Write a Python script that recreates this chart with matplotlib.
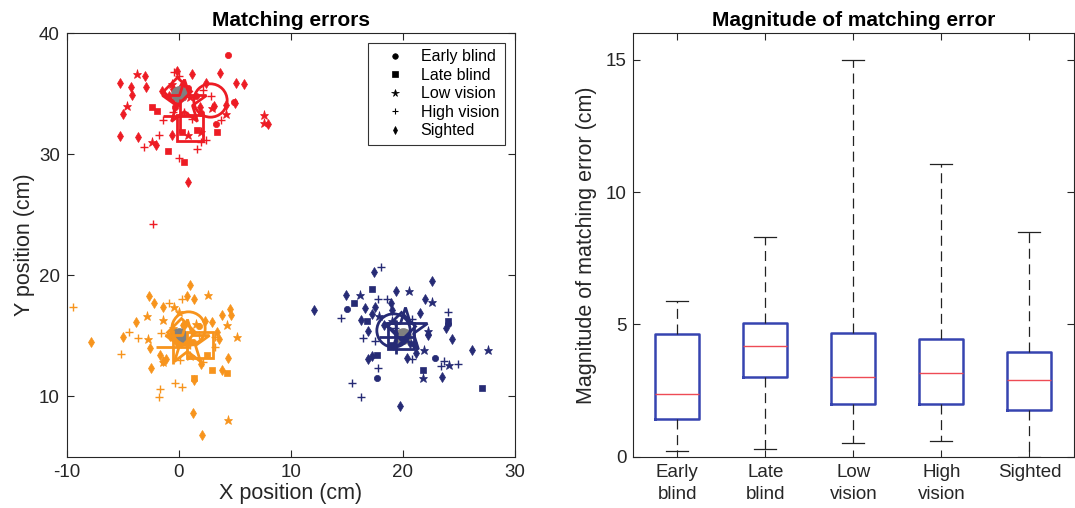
import matplotlib
matplotlib.use("Agg")
import matplotlib.pyplot as plt
import numpy as np

plt.rcParams['font.family'] = ['Liberation Sans', 'DejaVu Sans']
plt.rcParams['axes.unicode_minus'] = False

# ---------------- Data: left panel (matching errors) ----------------
groups = ["Early blind", "Late blind", "Low vision", "High vision", "Sighted"]
group_markers = ["o", "s", "*", "+", "d"]

# Target positions (gray dots)
target_x = [0, 0, 20]
target_y = [35, 15, 15]

# Red target (0,35)
red_early = [(4.4, 38.2), (3.35, 32.5), (4.9, 34.3), (1.5, 34.8), (-0.3, 33.9), (2.0, 33.4), (0.8, 35.5)]
red_late = [(-2.4, 33.9), (3.4, 31.85), (-1.0, 30.3), (0.45, 29.4), (-1.9, 33.6), (0.3, 31.8), (1.6, 32.0)]
red_low = [(-3.7, 36.6), (-4.6, 34.0), (-2.4, 31.0), (7.6, 33.25), (7.6, 32.6), (4.2, 33.3), (0.8, 31.6),
           (2.0, 31.8), (-0.6, 35.8), (1.0, 34.7), (-0.2, 34.2), (3.0, 33.8)]
red_high = [(-0.4, 36.8), (0.0, 36.5), (-0.55, 33.5), (-1.4, 32.8), (-1.8, 31.6), (-3.1, 30.6), (0.0, 29.7),
            (1.6, 30.4), (2.4, 31.2), (3.8, 32.8), (2.85, 34.8), (2.2, 35.3), (-2.3, 24.2), (1.2, 32.9),
            (0.5, 33.5), (2.0, 31.0)]
red_sighted = [(-5.2, 35.9), (-4.3, 35.6), (-2.9, 35.6), (-3.0, 36.5), (-4.2, 34.9), (-5.0, 33.3), (-5.2, 31.5),
               (-3.6, 31.4), (-2.0, 30.8), (-0.2, 36.9), (1.2, 36.6), (3.7, 36.7), (5.1, 35.9), (5.8, 35.8),
               (5.0, 34.2), (8.0, 32.5), (0.8, 27.7), (2.4, 35.9), (-0.6, 31.6), (-1.5, 35.2), (0.2, 35.6),
               (-0.9, 34.8), (1.9, 33.9), (3.1, 34.0), (0.6, 34.9), (4.2, 34.1), (-0.5, 35.4), (0.4, 35.8)]

# Orange target (0,15)
orange_early = [(0.5, 15.9), (1.3, 14.5), (-0.5, 15.3), (1.8, 15.8)]
orange_late = [(3.0, 12.2), (4.3, 11.9), (1.4, 11.5), (0.8, 14.6), (2.5, 13.4)]
orange_low = [(2.6, 18.4), (-2.8, 16.6), (-1.45, 16.3), (-0.4, 17.4), (4.3, 15.9), (5.2, 14.9), (4.4, 8.0),
              (-2.75, 14.7), (-1.4, 12.8), (0.0, 17.0), (1.5, 16.0), (1.0, 13.3), (-0.5, 15.6)]
orange_high = [(-9.4, 17.4), (-4.4, 15.3), (-3.6, 14.8), (-5.15, 13.45), (-1.7, 10.6), (-1.8, 9.9), (-0.3, 11.1),
               (0.3, 10.8), (-0.9, 17.7), (0.3, 18.0), (-1.6, 15.2), (2.2, 12.8), (3.2, 14.1), (3.2, 14.9),
               (1.0, 14.2), (0.1, 13.0), (1.8, 15.1)]
orange_sighted = [(1.0, 19.2), (-2.7, 18.3), (-2.2, 17.7), (-1.4, 17.4), (0.7, 18.3), (1.35, 18.0), (4.6, 17.2),
                  (4.7, 16.7), (3.9, 16.7), (3.0, 16.1), (-3.8, 16.1), (-4.95, 14.9), (-7.85, 14.5),
                  (-2.6, 13.95), (-1.7, 13.4), (-1.4, 12.9), (-1.1, 13.1), (-2.5, 12.3), (2.0, 12.7),
                  (1.4, 11.3), (3.85, 12.2), (4.4, 13.2), (3.6, 14.7), (1.3, 8.65), (2.1, 6.8), (3.4, 15.3),
                  (-0.8, 15.0), (0.4, 15.9), (2.3, 16.2), (-0.2, 14.4)]

# Navy target (20,15)
navy_early = [(15.05, 17.2), (17.7, 11.5), (22.9, 13.2), (24.0, 16.0), (19.5, 15.0), (21.0, 14.3)]
navy_late = [(17.2, 18.9), (15.6, 17.7), (24.0, 16.2), (21.8, 12.2), (27.1, 10.7), (17.7, 13.4), (16.8, 16.2),
             (19.0, 14.2)]
navy_low = [(16.2, 18.4), (20.5, 18.7), (22.6, 17.75), (27.6, 13.8), (21.8, 11.5), (24.1, 12.6), (17.9, 16.6),
            (22.2, 15.4), (21.9, 13.8), (19.0, 16.2)]
navy_high = [(18.0, 20.7), (14.5, 16.5), (16.4, 14.8), (15.5, 11.1), (16.3, 9.9), (17.8, 18.05), (18.6, 18.05),
             (24.0, 17.0), (23.7, 12.95), (23.4, 12.5), (24.9, 12.7), (17.5, 14.6), (17.8, 12.3), (20.8, 13.1),
             (19.3, 15.6), (20.8, 16.4)]
navy_sighted = [(17.4, 20.25), (22.6, 19.5), (14.9, 18.4), (16.6, 17.3), (17.5, 17.35), (18.9, 17.7), (19.4, 18.7),
                (19.0, 17.1), (17.2, 16.8), (16.3, 16.3), (16.9, 15.4), (16.9, 13.1), (17.2, 13.3), (20.4, 13.2),
                (22.0, 18.0), (23.8, 15.6), (24.4, 14.7), (26.2, 13.8), (23.5, 11.6), (21.2, 13.6), (22.2, 15.1),
                (12.1, 17.1), (19.7, 9.2), (18.3, 15.9), (21.5, 16.9), (20.6, 14.4)]

# Group means (large open markers), order = groups
red_means = [(2.8, 34.5), (1.0, 32.2), (0.5, 34.3), (0.1, 33.2), (-0.2, 35.2)]
orange_means = [(0.8, 15.6), (1.9, 14.2), (0.7, 14.5), (-0.5, 14.05), (0.2, 15.3)]
navy_means = [(19.1, 15.5), (19.8, 15.0), (20.2, 15.45), (19.4, 14.9), (19.85, 15.8)]

target_colors = ["#ed1c24", "#f7941d", "#262b75"]

# ---------------- Data: right panel (boxplot) ----------------
box_labels = ["Early\nblind", "Late\nblind", "Low\nvision", "High\nvision", "Sighted"]
whisker_low = [0.21, 0.30, 0.50, 0.59, 0.0]
q1 = [1.42, 3.02, 1.98, 1.99, 1.76]
medians = [2.38, 4.17, 3.01, 3.16, 2.90]
q3 = [4.65, 5.04, 4.67, 4.45, 3.97]
whisker_high = [5.88, 8.32, 15.0, 11.06, 8.51]

# ---------------- Figure ----------------
fig = plt.figure(figsize=(10.75, 5.08), dpi=100)
axcol = "#262626"
ax1 = fig.add_axes([66.7 / 1075, 1 - 456.7 / 508, (515 - 66.7) / 1075, (456.7 - 33.3) / 508])
ax2 = fig.add_axes([633.3 / 1075, 1 - 456.7 / 508, (1073.5 - 633.3) / 1075, (456.7 - 33.3) / 508])

sets = [
    (target_colors[0], [red_early, red_late, red_low, red_high, red_sighted], red_means),
    (target_colors[1], [orange_early, orange_late, orange_low, orange_high, orange_sighted], orange_means),
    (target_colors[2], [navy_early, navy_late, navy_low, navy_high, navy_sighted], navy_means),
]
small_sizes = {"o": 4.5, "s": 4.5, "*": 6.5, "+": 6, "d": 5.5}
for col, grp_pts, means in sets:
    for pts, mk in zip(grp_pts, group_markers):
        xs = [p[0] for p in pts]
        ys = [p[1] for p in pts]
        ax1.plot(xs, ys, linestyle="none", marker=mk, color=col, markersize=small_sizes[mk],
                 markeredgewidth=1.0 if mk == "+" else 0.5)

ax1.plot(target_x, target_y, linestyle="none", marker="o", color="#808080", markersize=11, zorder=3)

big_markers = ["o", "s", "*", "+", "D"]
big_sizes = {"o": 24, "s": 19, "*": 33, "+": 24, "D": 14}
for col, grp_pts, means in sets:
    for (mx, my), mk in zip(means, big_markers):
        ax1.plot([mx], [my], linestyle="none", marker=mk, markersize=big_sizes[mk], markerfacecolor="none",
                 markeredgecolor=col, markeredgewidth=2.0, zorder=4)

# legend handles (black, small)
handles = []
for g, mk in zip(groups, group_markers):
    h, = ax1.plot([], [], linestyle="none", marker=mk, color="black", markersize=4 if mk != "*" else 5.5,
                  markeredgewidth=0.8 if mk == "+" else 0.5, label=g)
    handles.append(h)
leg = ax1.legend(handles=handles, loc="upper right", fontsize=11.5, frameon=True, fancybox=False,
                 edgecolor="black", handlelength=2.6, handletextpad=0.3, borderpad=0.4,
                 labelspacing=0.22, borderaxespad=0.6)
leg.get_frame().set_linewidth(0.8)

ax1.set_xlim(-10, 30)
ax1.set_ylim(5, 40)
ax1.set_xticks([-10, 0, 10, 20, 30])
ax1.set_yticks([10, 20, 30, 40])
ax1.set_xlabel("X position (cm)", fontsize=15.5, color=axcol, labelpad=2)
ax1.set_ylabel("Y position (cm)", fontsize=15.5, color=axcol, labelpad=3)
ax1.set_title("Matching errors", fontsize=15, fontweight="bold", pad=5)

# Boxplot
stats = []
for i in range(len(box_labels)):
    stats.append(dict(whislo=whisker_low[i], q1=q1[i], med=medians[i], q3=q3[i], whishi=whisker_high[i],
                      fliers=[], label=box_labels[i]))
ax2.bxp(stats, positions=range(1, len(box_labels) + 1), widths=0.5, showfliers=False, capwidths=0.25,
        boxprops=dict(color="#3644b0", linewidth=1.8),
        medianprops=dict(color="#ee4b55", linewidth=1.0),
        whiskerprops=dict(color="#222222", linewidth=0.9, linestyle=(0, (8, 4.5))),
        capprops=dict(color="#222222", linewidth=0.9))
ax2.set_xlim(0.5, 5.5)
ax2.set_ylim(0, 16)
ax2.set_yticks([0, 5, 10, 15])
ax2.set_ylabel("Magnitude of matching error (cm)", fontsize=15.5, color=axcol, labelpad=6)
ax2.set_title("Magnitude of matching error", fontsize=15, fontweight="bold", pad=5)

for ax in (ax1, ax2):
    ax.tick_params(direction="in", top=True, right=True, length=5, width=0.8, colors=axcol,
                   labelsize=13.5, pad=5)
    for s in ax.spines.values():
        s.set_color(axcol)
        s.set_linewidth(0.8)
ax2.tick_params(axis="x", pad=5)
for lbl in ax2.get_xticklabels():
    lbl.set_linespacing(1.45)

fig.savefig("out.png", dpi=100)
